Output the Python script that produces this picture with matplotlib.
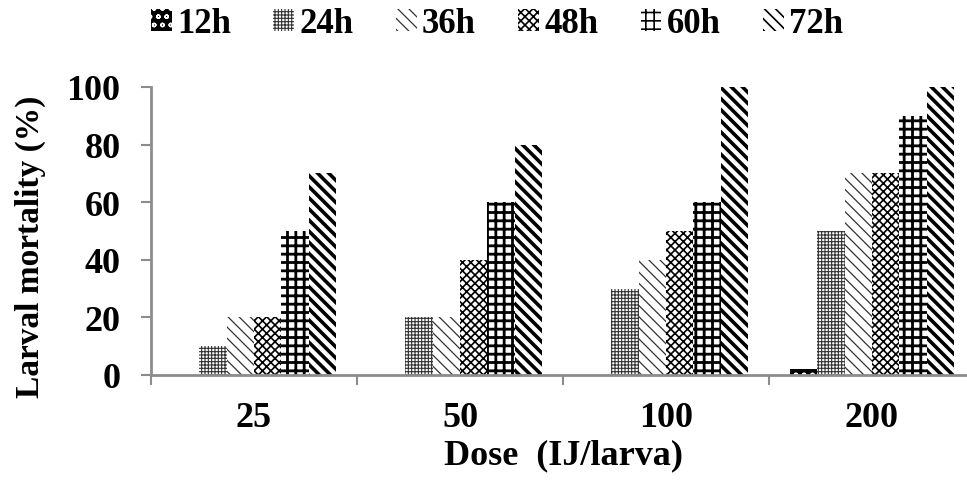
import numpy as np
import matplotlib
matplotlib.use('Agg')
import matplotlib.pyplot as plt
from matplotlib.ticker import FixedLocator

# Data
doses = ['25', '50', '100', '200']
hours = ['12h', '24h', '36h', '48h', '60h', '72h']
mort_12h = [0, 0, 0, 2]
mort_24h = [10, 20, 30, 50]
mort_36h = [20, 20, 40, 70]
mort_48h = [20, 40, 50, 70]
mort_60h = [50, 60, 60, 90]
mort_72h = [70, 80, 100, 100]
series = [mort_12h, mort_24h, mort_36h, mort_48h, mort_60h, mort_72h]

# pattern styles: (facecolor, hatch colour, hatch, hatch linewidth)
STYLES = [
    ('black', 'white', 'oo', 1.0),
    ('white', '#333333', '+++++', 0.8),
    ('white', '#333333', '\\\\\\', 0.9),
    ('white', 'black', 'xxxx', 1.2),
    ('white', 'black', '++', 2.0),
    ('white', 'black', '\\\\\\', 2.6),
]

plt.rcParams['font.family'] = ['Liberation Serif', 'DejaVu Serif']
plt.rcParams['font.weight'] = 'bold'

fig = plt.figure(figsize=(9.67, 4.81), dpi=100)
# the right end of the axis runs past the picture edge in the original
ax = fig.add_axes([151 / 967, 1 - 376 / 481, 824 / 967, 288 / 481])

x = np.arange(len(doses))
WIDTH = 1 / 7.5
bars = []
for i, vals in enumerate(series):
    face, hcol, hatch, hlw = STYLES[i]
    with plt.rc_context({'hatch.linewidth': hlw}):
        b = ax.bar(x + (i - 2.5) * WIDTH, vals, width=WIDTH, color=face,
                   edgecolor=hcol, hatch=hatch, linewidth=0, label=hours[i])
    for p in b:
        if hasattr(p, 'set_hatch_linewidth'):
            p.set_hatch_linewidth(hlw)
    bars.append(b)

ax.set_xlim(-0.5, 3.5)
ax.set_ylim(0, 100)
ax.set_yticks([0, 20, 40, 60, 80, 100])
ax.set_xticks(x)
ax.set_xticklabels(doses)
ax.xaxis.set_minor_locator(FixedLocator([-0.5, 0.5, 1.5, 2.5, 3.5]))

for s in ['top', 'right']:
    ax.spines[s].set_visible(False)
for s in ['left', 'bottom']:
    ax.spines[s].set_color('#8c8c8c')
    ax.spines[s].set_linewidth(2)

ax.tick_params(axis='y', direction='out', length=7, width=1.5, color='#8c8c8c',
               labelsize=26, pad=15)
ax.tick_params(axis='x', which='major', length=0, labelsize=26, pad=19)
ax.tick_params(axis='x', which='minor', direction='out', length=7, width=1.5,
               color='#8c8c8c')

ax.set_ylabel('Larval mortality (%)', fontsize=24, fontweight='bold')
ax.yaxis.set_label_coords(-0.128, 0.45)
ax.set_xlabel('Dose  (IJ/larva)', fontsize=26, fontweight='bold', labelpad=3)

with plt.rc_context({'hatch.linewidth': 1.0}):
    leg = fig.legend(handles=[b[0] for b in bars], labels=hours, loc='center',
                     bbox_to_anchor=(497 / 967, 1 - 25 / 481), ncol=6,
                     frameon=False, fontsize=25, handlelength=0.6,
                     handleheight=0.6, handletextpad=0.15, columnspacing=1.22,
                     borderaxespad=0)
for lh, st in zip(leg.legend_handles, STYLES):
    if hasattr(lh, 'set_hatch_linewidth'):
        lh.set_hatch_linewidth(min(st[3], 1.2))

fig.savefig('out.png', dpi=100)
